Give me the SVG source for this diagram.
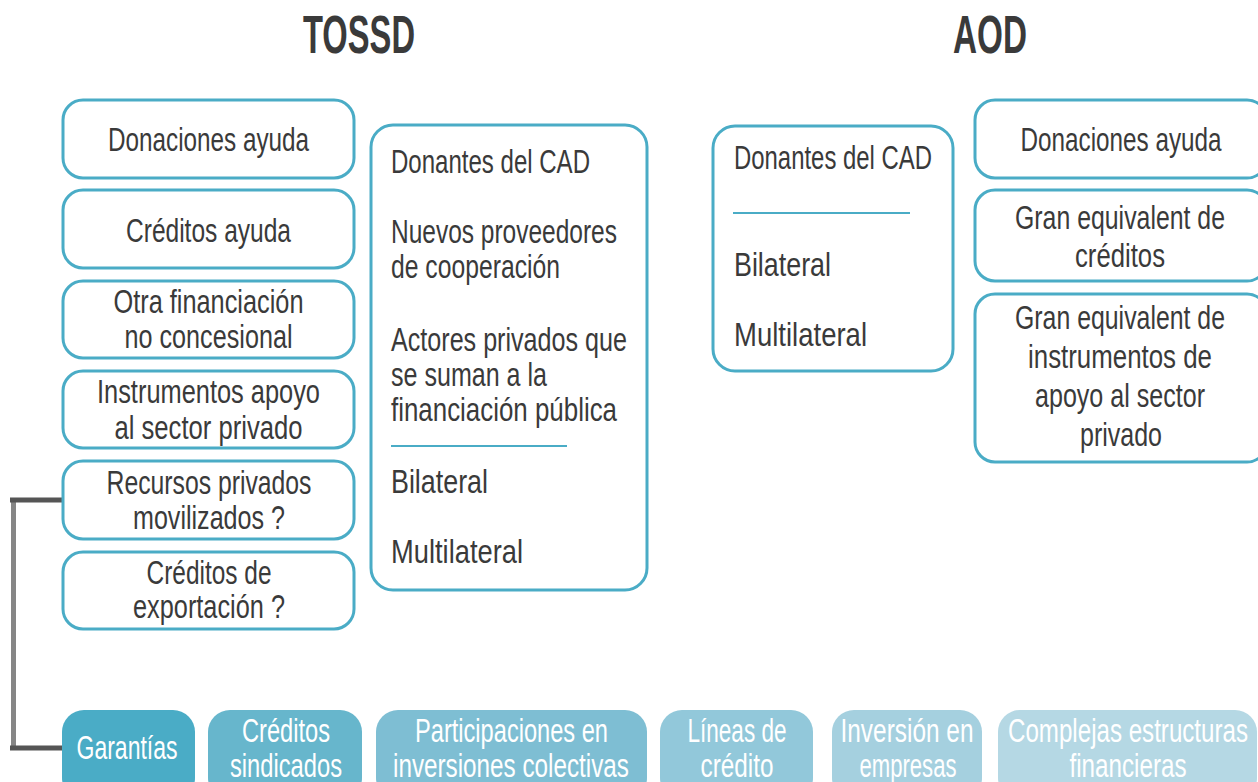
<svg xmlns="http://www.w3.org/2000/svg" width="1258" height="782" viewBox="0 0 1258 782">
<style>
.box{fill:#fff;stroke:#4aacc6;stroke-width:3}
.t{font-family:"Liberation Sans Narrow","Liberation Sans",sans-serif;font-size:34px;fill:#3a3a3a}
.c{text-anchor:middle}
.w{font-family:"Liberation Sans Narrow","Liberation Sans",sans-serif;font-size:34px;fill:#fff;text-anchor:middle}
.h{font-family:"Liberation Sans Narrow","Liberation Sans",sans-serif;font-size:53px;font-weight:bold;fill:#3a3a3a;text-anchor:middle}
.sep{stroke:#4aacc6;stroke-width:2}
</style>
<rect width="1258" height="782" fill="#fff"/>
<text class="h" x="359" y="53" textLength="112" lengthAdjust="spacingAndGlyphs">TOSSD</text>
<text class="h" x="990" y="53" textLength="74" lengthAdjust="spacingAndGlyphs">AOD</text>

<g id="connectors">
<line x1="13.5" y1="498" x2="13.5" y2="750" stroke="#868686" stroke-width="5"/>
<line x1="10" y1="500" x2="63" y2="500" stroke="#555" stroke-width="5"/>
<line x1="10" y1="748" x2="63" y2="748" stroke="#555" stroke-width="5"/>
</g>

<g id="n-donaciones">
<rect class="box" x="63" y="100" width="291" height="78" rx="20"/>
<text class="t c" x="208.5" y="151" textLength="201" lengthAdjust="spacingAndGlyphs">Donaciones ayuda</text>
</g>
<g id="n-creditos">
<rect class="box" x="63" y="190" width="291" height="78" rx="20"/>
<text class="t c" x="208.5" y="242" textLength="165" lengthAdjust="spacingAndGlyphs">Créditos ayuda</text>
</g>
<g id="n-otra">
<rect class="box" x="63" y="281" width="291" height="77" rx="20"/>
<text class="t c" x="208.5" y="313" textLength="190" lengthAdjust="spacingAndGlyphs">Otra financiación</text>
<text class="t c" x="208.5" y="348" textLength="168" lengthAdjust="spacingAndGlyphs">no concesional</text>
</g>
<g id="n-instrumentos">
<rect class="box" x="63" y="371" width="291" height="77" rx="20"/>
<text class="t c" x="208.5" y="403" textLength="223" lengthAdjust="spacingAndGlyphs">Instrumentos apoyo</text>
<text class="t c" x="208.5" y="439" textLength="188" lengthAdjust="spacingAndGlyphs">al sector privado</text>
</g>
<g id="n-recursos">
<rect class="box" x="63" y="461" width="291" height="78" rx="20"/>
<text class="t c" x="209" y="494" textLength="205" lengthAdjust="spacingAndGlyphs">Recursos privados</text>
<text class="t c" x="209" y="529" textLength="152" lengthAdjust="spacingAndGlyphs">movilizados ?</text>
</g>
<g id="n-exportacion">
<rect class="box" x="63" y="552" width="291" height="77" rx="20"/>
<text class="t c" x="209" y="584" textLength="125" lengthAdjust="spacingAndGlyphs">Créditos de</text>
<text class="t c" x="209" y="618" textLength="152" lengthAdjust="spacingAndGlyphs">exportación ?</text>
</g>

<g id="n-tossd-actores">
<rect class="box" x="371" y="125" width="276" height="465" rx="22"/>
<text class="t" x="391" y="173" textLength="199" lengthAdjust="spacingAndGlyphs">Donantes del CAD</text>
<text class="t" x="391" y="243" textLength="226" lengthAdjust="spacingAndGlyphs">Nuevos proveedores</text>
<text class="t" x="391" y="278" textLength="169" lengthAdjust="spacingAndGlyphs">de cooperación</text>
<text class="t" x="391" y="351" textLength="236" lengthAdjust="spacingAndGlyphs">Actores privados que</text>
<text class="t" x="391" y="386" textLength="156" lengthAdjust="spacingAndGlyphs">se suman a la</text>
<text class="t" x="391" y="421" textLength="226" lengthAdjust="spacingAndGlyphs">financiación pública</text>
<line class="sep" x1="391" y1="446" x2="567" y2="446"/>
<text class="t" x="391" y="493" textLength="97" lengthAdjust="spacingAndGlyphs">Bilateral</text>
<text class="t" x="391" y="563" textLength="132" lengthAdjust="spacingAndGlyphs">Multilateral</text>
</g>

<g id="n-aod-actores">
<rect class="box" x="713" y="126" width="240" height="245" rx="22"/>
<text class="t" x="734" y="169" textLength="198" lengthAdjust="spacingAndGlyphs">Donantes del CAD</text>
<line class="sep" x1="733" y1="213" x2="910" y2="213"/>
<text class="t" x="734" y="276" textLength="97" lengthAdjust="spacingAndGlyphs">Bilateral</text>
<text class="t" x="734" y="346" textLength="133" lengthAdjust="spacingAndGlyphs">Multilateral</text>
</g>

<g id="n-aod-donaciones">
<rect class="box" x="975" y="100" width="292" height="78" rx="20"/>
<text class="t c" x="1121" y="151" textLength="201" lengthAdjust="spacingAndGlyphs">Donaciones ayuda</text>
</g>
<g id="n-aod-creditos">
<rect class="box" x="975" y="190" width="292" height="91" rx="20"/>
<text class="t c" x="1120" y="229" textLength="210" lengthAdjust="spacingAndGlyphs">Gran equivalent de</text>
<text class="t c" x="1120" y="267" textLength="90" lengthAdjust="spacingAndGlyphs">créditos</text>
</g>
<g id="n-aod-instrumentos">
<rect class="box" x="975" y="294" width="292" height="168" rx="20"/>
<text class="t c" x="1120" y="329" textLength="210" lengthAdjust="spacingAndGlyphs">Gran equivalent de</text>
<text class="t c" x="1120" y="368" textLength="184" lengthAdjust="spacingAndGlyphs">instrumentos de</text>
<text class="t c" x="1120" y="407" textLength="170" lengthAdjust="spacingAndGlyphs">apoyo al sector</text>
<text class="t c" x="1121" y="446" textLength="82" lengthAdjust="spacingAndGlyphs">privado</text>
</g>

<g id="n-garantias">
<rect x="62" y="710" width="133" height="90" rx="22" fill="#4aacc6"/>
<text class="w" x="127" y="759" textLength="101" lengthAdjust="spacingAndGlyphs">Garantías</text>
</g>
<g id="n-sindicados">
<rect x="208" y="710" width="154" height="90" rx="22" fill="#67b6cc"/>
<text class="w" x="286" y="742" textLength="88" lengthAdjust="spacingAndGlyphs">Créditos</text>
<text class="w" x="286" y="777" textLength="112" lengthAdjust="spacingAndGlyphs">sindicados</text>
</g>
<g id="n-participaciones">
<rect x="376" y="710" width="271" height="90" rx="22" fill="#7ebed3"/>
<text class="w" x="511.5" y="742" textLength="193" lengthAdjust="spacingAndGlyphs">Participaciones en</text>
<text class="w" x="511" y="777" textLength="236" lengthAdjust="spacingAndGlyphs">inversiones colectivas</text>
</g>
<g id="n-lineas">
<rect x="660" y="710" width="153" height="90" rx="22" fill="#92c8da"/>
<text class="w" x="737" y="742" textLength="99" lengthAdjust="spacingAndGlyphs">Líneas de</text>
<text class="w" x="737" y="777" textLength="73" lengthAdjust="spacingAndGlyphs">crédito</text>
</g>
<g id="n-inversion">
<rect x="832" y="710" width="150" height="90" rx="22" fill="#a5d0df"/>
<text class="w" x="907" y="742" textLength="133" lengthAdjust="spacingAndGlyphs">Inversión en</text>
<text class="w" x="908" y="777" textLength="97" lengthAdjust="spacingAndGlyphs">empresas</text>
</g>
<g id="n-complejas">
<rect x="998" y="710" width="259" height="90" rx="22" fill="#b5d8e4"/>
<text class="w" x="1128" y="742" textLength="240" lengthAdjust="spacingAndGlyphs">Complejas estructuras</text>
<text class="w" x="1128" y="777" textLength="117" lengthAdjust="spacingAndGlyphs">financieras</text>
</g>
</svg>
